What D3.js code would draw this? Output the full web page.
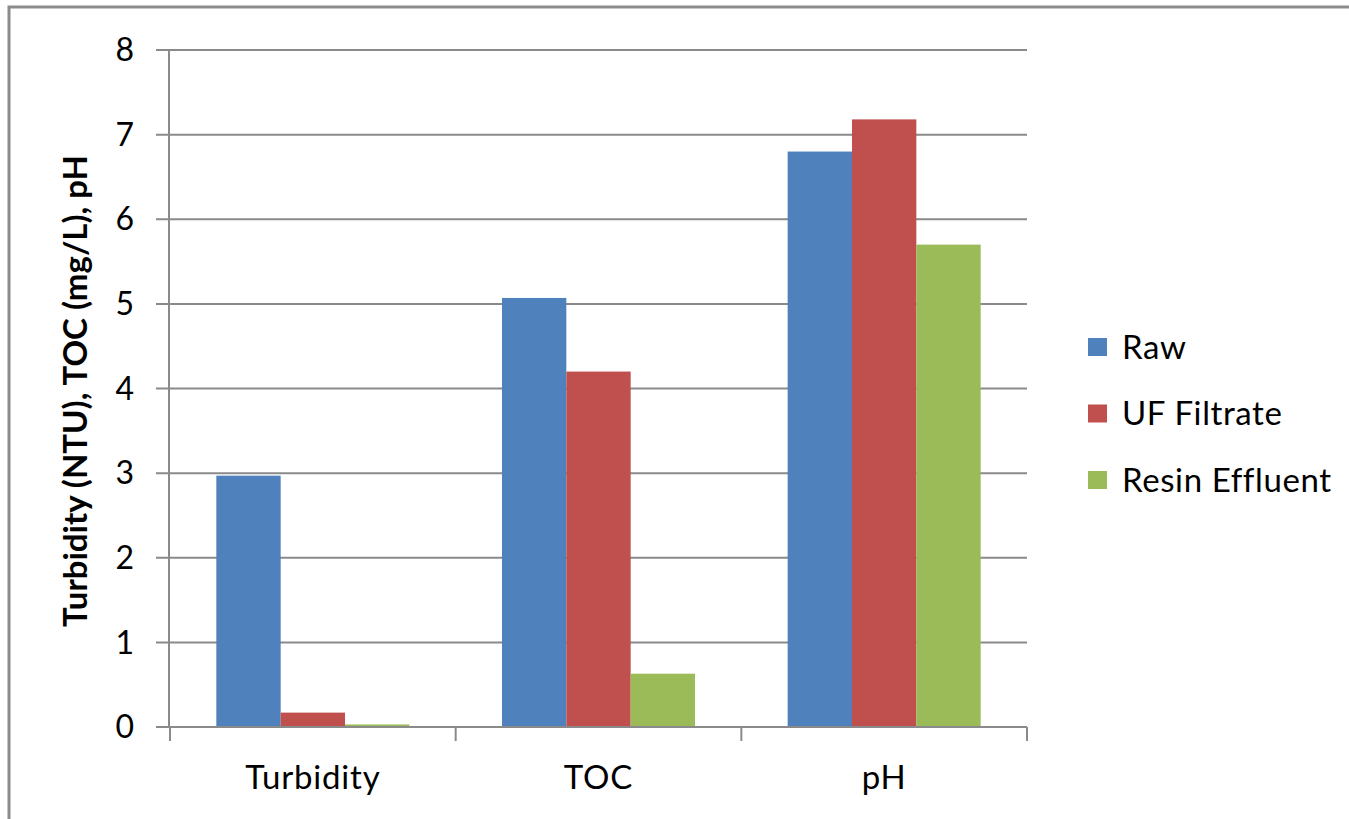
<!DOCTYPE html>
<html>
<head>
<meta charset="utf-8">
<script src="https://cdn.jsdelivr.net/npm/d3@7"></script>
<style>
  body { margin: 0; background: #fff; }
  svg { display: block; font-family: Lato, "Open Sans", sans-serif; }
</style>
</head>
<body>
<svg id="chart" width="1349" height="819"></svg>
<script>
// data
const categories = ["Turbidity", "TOC", "pH"];
const seriesNames = ["Raw", "UF Filtrate", "Resin Effluent"];
const raw = [2.97, 5.07, 6.8];
const ufFiltrate = [0.17, 4.2, 7.18];
const resinEffluent = [0.03, 0.63, 5.7];
const yTicks = [0, 1, 2, 3, 4, 5, 6, 7, 8];
const colors = ["#4F81BD", "#C0504D", "#9BBB59"];

const seriesValues = [raw, ufFiltrate, resinEffluent];

const svg = d3.select("#chart");

// outer frame
svg.append("rect")
  .attr("x", 9).attr("y", 7)
  .attr("width", 1360).attr("height", 820)
  .attr("fill", "none")
  .attr("stroke", "#8c8c8c")
  .attr("stroke-width", 3);

const plot = { left: 170, right: 1027, top: 50, bottom: 727 };

const y = d3.scaleLinear().domain([0, 8]).range([plot.bottom, plot.top]);
const x = d3.scaleBand().domain(categories).range([plot.left, plot.right]);
const xs = d3.scaleBand().domain(seriesNames)
  .range([0, x.bandwidth()])
  .paddingInner(0)
  .paddingOuter(0.72);

// gridlines + y ticks
const g = svg.append("g");
g.selectAll(".grid")
  .data(yTicks)
  .enter()
  .append("line")
  .attr("class", "grid")
  .attr("x1", plot.left - 14)
  .attr("x2", plot.right)
  .attr("y1", d => y(d))
  .attr("y2", d => y(d))
  .attr("stroke", "#8a8a8a")
  .attr("stroke-width", 2);

g.selectAll(".ylab")
  .data(yTicks)
  .enter()
  .append("text")
  .attr("class", "ylab")
  .attr("x", 134)
  .attr("y", d => y(d))
  .attr("dy", "0.35em")
  .attr("text-anchor", "end")
  .attr("font-size", 32)
  .attr("fill", "#000")
  .text(d => d);

// bars
categories.forEach((cat, ci) => {
  svg.append("g")
    .selectAll("rect")
    .data(seriesNames)
    .enter()
    .append("rect")
    .attr("x", s => x(cat) + xs(s))
    .attr("width", xs.bandwidth())
    .attr("y", (s, si) => y(seriesValues[si][ci]))
    .attr("height", (s, si) => plot.bottom - y(seriesValues[si][ci]))
    .attr("fill", (s, si) => colors[si]);
});

// axes lines
svg.append("line")
  .attr("x1", plot.left - 1).attr("x2", plot.left - 1)
  .attr("y1", plot.top).attr("y2", plot.bottom)
  .attr("stroke", "#8a8a8a").attr("stroke-width", 2);

svg.append("line")
  .attr("x1", plot.left - 14).attr("x2", plot.right)
  .attr("y1", plot.bottom).attr("y2", plot.bottom)
  .attr("stroke", "#8a8a8a").attr("stroke-width", 2);

// category tick marks
const bounds = categories.map(c => x(c)).concat([plot.right]);
svg.selectAll(".xtick")
  .data(bounds)
  .enter()
  .append("line")
  .attr("x1", d => d).attr("x2", d => d)
  .attr("y1", plot.bottom).attr("y2", plot.bottom + 14)
  .attr("stroke", "#8a8a8a").attr("stroke-width", 2);

svg.selectAll(".xlab")
  .data(categories)
  .enter()
  .append("text")
  .attr("x", d => x(d) + x.bandwidth() / 2)
  .attr("y", 777)
  .attr("dy", "0.35em")
  .attr("text-anchor", "middle")
  .attr("font-size", 33)
  .attr("letter-spacing", 0.8)
  .text(d => d);

// y axis title
svg.append("text")
  .attr("transform", "translate(75,391) rotate(-90)")
  .attr("text-anchor", "middle")
  .attr("dy", "0.35em")
  .attr("font-size", 33)
  .attr("font-weight", "bold")
  .text("Turbidity (NTU), TOC (mg/L), pH");

// legend
const legend = svg.append("g")
  .selectAll("g")
  .data(seriesNames)
  .enter()
  .append("g")
  .attr("transform", (d, i) => `translate(1088, ${347 + i * 66.5})`);

legend.append("rect")
  .attr("x", 0).attr("y", -9)
  .attr("width", 19).attr("height", 18)
  .attr("fill", (d, i) => colors[i]);

legend.append("text")
  .attr("x", 34)
  .attr("dy", "0.35em")
  .attr("font-size", 33)
  .attr("letter-spacing", 0.6)
  .text(d => d);
</script>
</body>
</html>
